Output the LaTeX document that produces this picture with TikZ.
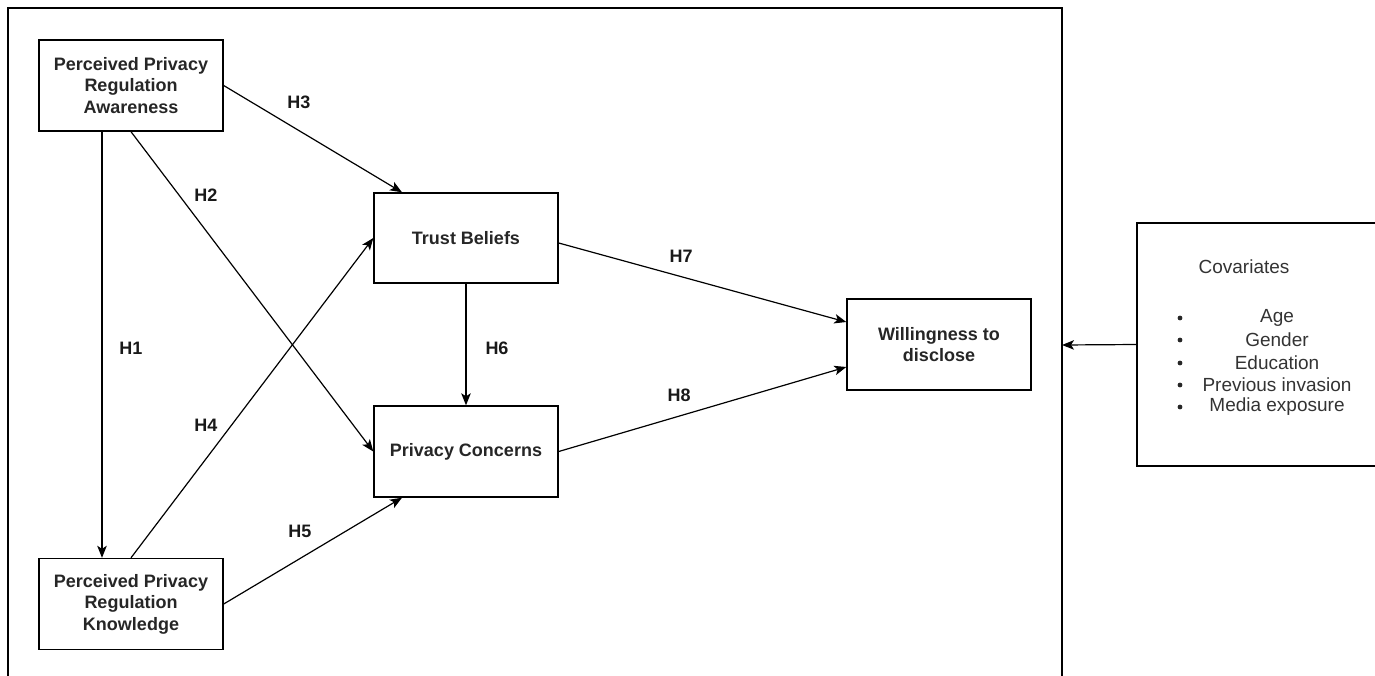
\documentclass[tikz,border=0pt]{standalone}
\usepackage{fontspec}
\setmainfont{Liberation Sans}
\usetikzlibrary{arrows.meta}

\begin{document}
\begin{tikzpicture}[x=1pt,y=-1pt,
  box/.style={draw, line width=1.4pt, minimum width=184pt, minimum height=91pt,
    inner sep=0pt, align=center, text=black!85,
    font=\fontsize{18}{21.6}\selectfont\bfseries},
  link/.style={line width=1.2pt, -{Stealth[length=12pt,width=9.5pt,inset=3pt]}},
  hlabel/.style={font=\fontsize{18}{20}\selectfont\bfseries, text=black!90, inner sep=0pt},
  covtext/.style={font=\fontsize{19}{22}\selectfont, text=black!80, inner sep=0pt},
]
\useasboundingbox (0,0) rectangle (1375,675);
\clip (0,0) rectangle (1375,675);

% model frame, open at the bottom
\draw[line width=1.8pt] (8,690) -- (8,8) -- (1062,8) -- (1062,690);
\coordinate (frameR) at (1062,345);

% constructs
\node[box] (ppra) at (131,85.5) {Perceived Privacy\\Regulation\\Awareness};
\node[box] (pprk) at (131,604) {Perceived Privacy\\Regulation\\Knowledge};
\node[box, minimum height=90pt] (tb) at (466,238) {Trust Beliefs};
\node[box] (pc) at (466,451.5) {Privacy Concerns};
\node[box] (wd) at (939,344.5) {Willingness to\\disclose};

% covariates panel
\node[draw, line width=1.4pt, minimum width=250pt, minimum height=243pt, inner sep=0pt]
  (cov) at (1262,344.5) {};
\node[covtext] (covtitle) at (1244,267) {Covariates};
\foreach \name/\txt/\yy in {age/Age/318, gender/Gender/340, edu/Education/363,
    prev/Previous invasion/385, media/Media exposure/407} {
  \node[covtext] (\name) at (1277,\yy) {\txt};
  \fill[black!85] (1180,\yy) circle (2.4pt);
}

% hypothesised paths
\draw[link] ([xshift=-29pt]ppra.south) -- ([xshift=-29pt]pprk.north);
\draw[link] (ppra.south) -- (pc.west);
\draw[link] (ppra.east) -- ([xshift=-64pt]tb.north);
\draw[link] (pprk.north) -- (tb.west);
\draw[link] (pprk.east) -- ([xshift=-64pt]pc.south);
\draw[link] (tb.south) -- (pc.north);
\draw[link] ([yshift=-5pt]tb.east) -- ([yshift=22.5pt]wd.west);
\draw[link] (pc.east) -- ([yshift=-22.5pt]wd.west);
\draw[link] (cov.west) -- (frameR);

% path labels
\node[hlabel] (h1) at (131,348) {H1};
\node[hlabel] (h2) at (206,195) {H2};
\node[hlabel] (h3) at (299,102) {H3};
\node[hlabel] (h4) at (206,425) {H4};
\node[hlabel] (h5) at (300,531) {H5};
\node[hlabel] (h6) at (497,348) {H6};
\node[hlabel] (h7) at (681,256) {H7};
\node[hlabel] (h8) at (679,395) {H8};
\end{tikzpicture}
\end{document}
